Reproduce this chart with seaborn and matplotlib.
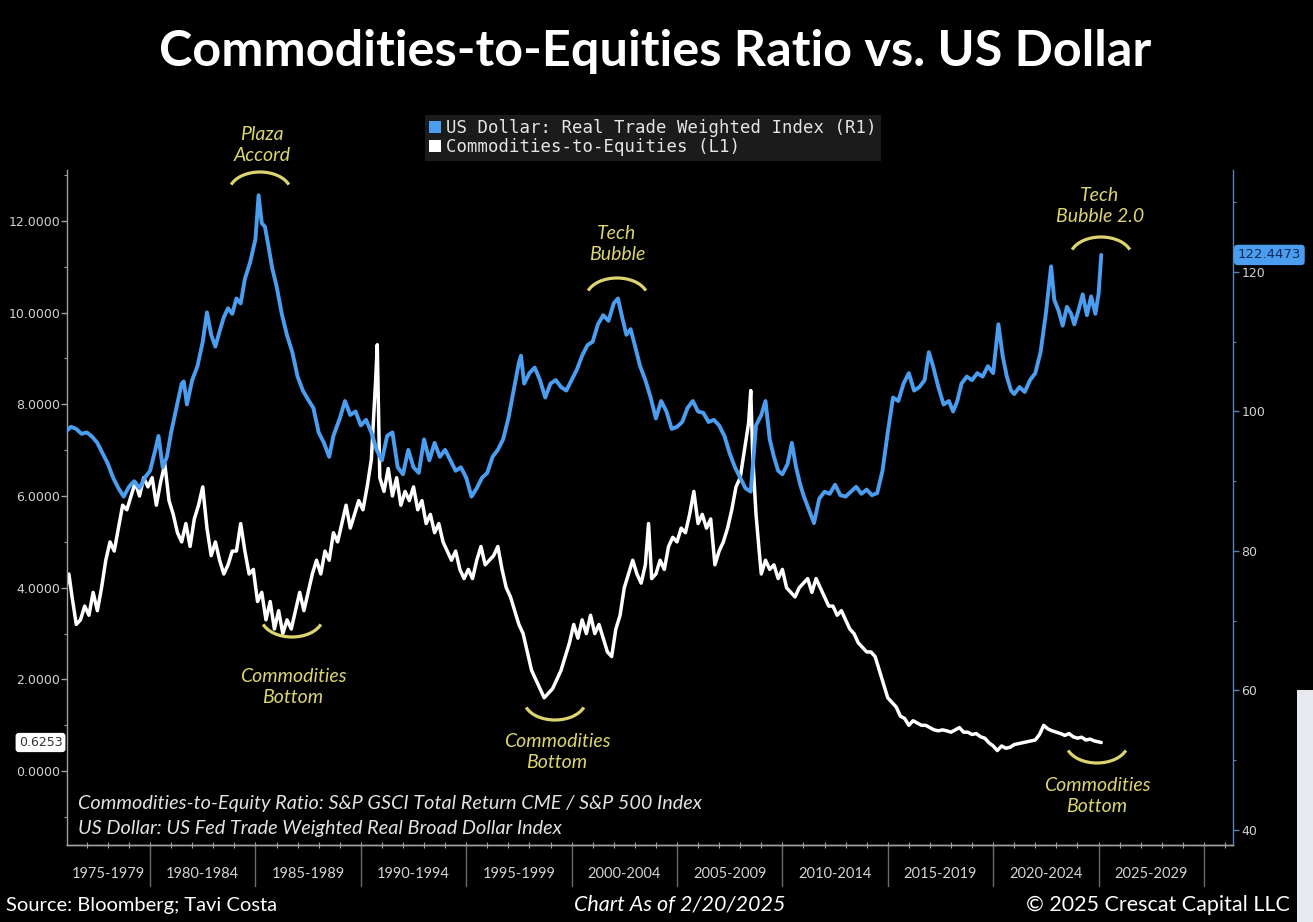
import numpy as np
import pandas as pd
import matplotlib
matplotlib.use("Agg")
import matplotlib.pyplot as plt
import matplotlib.transforms as mtransforms
from matplotlib.patches import Arc, Patch, Rectangle
from matplotlib.font_manager import FontProperties
import seaborn as sns

# ---------------- data ----------------
usd_years = [
    1976.0, 1976.25, 1976.5, 1976.75, 1977.0, 1977.25, 1977.5, 1977.75, 1978.0, 1978.25,
    1978.5, 1978.75, 1979.0, 1979.25, 1979.5, 1979.75, 1980.0, 1980.25, 1980.4, 1980.6,
    1980.8, 1981.0, 1981.25, 1981.5, 1981.6, 1981.75, 1982.0, 1982.25, 1982.5, 1982.7,
    1982.9, 1983.1, 1983.3, 1983.5, 1983.7, 1983.9, 1984.1, 1984.3, 1984.5, 1984.75,
    1985.0, 1985.15, 1985.3, 1985.45, 1985.6, 1985.8, 1986.0, 1986.25, 1986.5, 1986.75,
    1987.0, 1987.25, 1987.5, 1987.75, 1988.0, 1988.25, 1988.5, 1988.7, 1989.0, 1989.25,
    1989.5, 1989.75, 1990.0, 1990.25, 1990.5, 1990.75, 1991.0, 1991.25, 1991.5, 1991.75,
    1992.0, 1992.25, 1992.5, 1992.75, 1993.0, 1993.25, 1993.5, 1993.75, 1994.0, 1994.25,
    1994.5, 1994.75, 1995.0, 1995.25, 1995.5, 1995.75, 1996.0, 1996.25, 1996.5, 1996.75,
    1997.0, 1997.25, 1997.5, 1997.6, 1997.75, 1998.0, 1998.25, 1998.5, 1998.75, 1999.0,
    1999.25, 1999.5, 1999.75, 2000.0, 2000.25, 2000.5, 2000.75, 2001.0, 2001.25, 2001.5,
    2001.75, 2002.0, 2002.2, 2002.4, 2002.6, 2002.8, 2003.0, 2003.25, 2003.5, 2003.75,
    2004.0, 2004.25, 2004.5, 2004.75, 2005.0, 2005.25, 2005.5, 2005.75, 2006.0, 2006.25,
    2006.5, 2006.75, 2007.0, 2007.25, 2007.5, 2007.75, 2008.0, 2008.25, 2008.5, 2008.75,
    2009.0, 2009.2, 2009.4, 2009.6, 2009.8, 2010.0, 2010.25, 2010.45, 2010.65, 2010.85,
    2011.0, 2011.25, 2011.5, 2011.75, 2012.0, 2012.25, 2012.5, 2012.75, 2013.0, 2013.25,
    2013.5, 2013.75, 2014.0, 2014.25, 2014.5, 2014.75, 2015.0, 2015.25, 2015.5, 2015.75,
    2016.0, 2016.25, 2016.5, 2016.75, 2016.95, 2017.15, 2017.4, 2017.65, 2017.9, 2018.1,
    2018.3, 2018.5, 2018.75, 2019.0, 2019.25, 2019.5, 2019.75, 2020.0, 2020.25, 2020.45,
    2020.65, 2020.85, 2021.0, 2021.25, 2021.5, 2021.75, 2022.0, 2022.25, 2022.5, 2022.75,
    2022.9, 2023.1, 2023.3, 2023.5, 2023.7, 2023.85, 2024.05, 2024.25, 2024.45, 2024.65,
    2024.85, 2025.0, 2025.13,
]
usd_values = [
    97.1, 97.8, 97.5, 96.8, 97.0, 96.4, 95.5, 94.0, 92.5, 90.5,
    89.0, 87.8, 89.2, 90.0, 89.0, 90.5, 91.5, 94.5, 96.5, 92.0,
    93.5, 97.0, 100.5, 104.0, 104.3, 101.0, 104.5, 106.5, 110.0, 114.2,
    111.0, 109.3, 111.5, 113.5, 114.8, 114.0, 116.2, 115.5, 119.0, 121.4,
    124.7, 131.0, 127.0, 126.5, 124.0, 120.5, 118.0, 114.0, 110.9, 108.5,
    105.0, 103.0, 101.7, 100.5, 97.0, 95.5, 93.5, 96.5, 99.0, 101.5,
    99.5, 100.0, 98.0, 98.8, 97.0, 94.5, 93.0, 96.5, 97.0, 92.0,
    91.0, 94.5, 92.0, 91.2, 96.0, 93.0, 95.5, 93.5, 94.5, 93.0,
    91.5, 92.0, 90.5, 87.8, 89.0, 90.5, 91.2, 93.5, 94.5, 96.0,
    99.0, 103.0, 107.0, 108.0, 104.0, 105.5, 106.3, 104.5, 102.0, 104.0,
    104.5, 103.5, 103.0, 104.5, 106.0, 108.0, 109.5, 110.0, 112.5, 113.8,
    113.0, 115.5, 116.2, 113.5, 111.0, 111.8, 109.5, 106.5, 104.5, 102.0,
    99.0, 101.5, 100.0, 97.5, 97.8, 98.5, 100.5, 101.5, 100.0, 99.8,
    98.5, 98.8, 98.0, 96.5, 94.0, 92.0, 90.5, 89.0, 88.5, 98.0,
    99.5, 101.5, 96.0, 93.5, 91.5, 91.0, 92.5, 95.5, 92.0, 89.5,
    88.0, 86.0, 84.0, 87.5, 88.5, 88.2, 89.5, 88.0, 87.8, 88.5,
    89.2, 88.2, 88.8, 88.0, 88.3, 91.5, 97.0, 102.0, 101.5, 104.0,
    105.5, 103.0, 103.5, 104.5, 108.5, 106.5, 103.5, 101.0, 101.5, 100.0,
    101.5, 104.0, 105.0, 104.5, 105.5, 105.0, 106.5, 105.5, 112.5, 108.0,
    105.0, 103.0, 102.5, 103.5, 102.8, 104.5, 105.5, 108.5, 114.0, 120.8,
    116.0, 114.5, 112.3, 115.0, 114.0, 112.5, 114.5, 116.8, 113.8, 116.5,
    114.0, 116.8, 122.4473,
]

ce_years = [
    1976.0, 1976.15, 1976.3, 1976.5, 1976.7, 1976.9, 1977.1, 1977.3, 1977.5, 1977.7,
    1977.9, 1978.1, 1978.3, 1978.5, 1978.7, 1978.9, 1979.1, 1979.3, 1979.5, 1979.7,
    1979.9, 1980.1, 1980.3, 1980.5, 1980.7, 1980.9, 1981.1, 1981.3, 1981.5, 1981.7,
    1981.9, 1982.1, 1982.3, 1982.5, 1982.7, 1982.9, 1983.1, 1983.3, 1983.5, 1983.7,
    1983.9, 1984.1, 1984.3, 1984.5, 1984.7, 1984.9, 1985.1, 1985.3, 1985.5, 1985.7,
    1985.9, 1986.1, 1986.3, 1986.5, 1986.7, 1986.9, 1987.1, 1987.3, 1987.5, 1987.7,
    1987.9, 1988.1, 1988.3, 1988.5, 1988.7, 1988.9, 1989.1, 1989.3, 1989.5, 1989.7,
    1989.9, 1990.1, 1990.3, 1990.5, 1990.7, 1990.78, 1990.9, 1991.1, 1991.3, 1991.5,
    1991.7, 1991.9, 1992.1, 1992.3, 1992.5, 1992.7, 1992.9, 1993.1, 1993.3, 1993.5,
    1993.7, 1993.9, 1994.1, 1994.3, 1994.5, 1994.7, 1994.9, 1995.1, 1995.3, 1995.5,
    1995.7, 1995.9, 1996.1, 1996.3, 1996.5, 1996.7, 1996.9, 1997.1, 1997.3, 1997.5,
    1997.7, 1997.9, 1998.1, 1998.3, 1998.5, 1998.7, 1998.9, 1999.1, 1999.3, 1999.5,
    1999.7, 1999.9, 2000.1, 2000.3, 2000.5, 2000.7, 2000.9, 2001.1, 2001.3, 2001.5,
    2001.7, 2001.9, 2002.1, 2002.3, 2002.5, 2002.7, 2002.9, 2003.1, 2003.3, 2003.5,
    2003.65, 2003.8, 2004.0, 2004.2, 2004.4, 2004.6, 2004.8, 2005.0, 2005.2, 2005.4,
    2005.6, 2005.8, 2006.0, 2006.2, 2006.4, 2006.6, 2006.8, 2007.0, 2007.2, 2007.4,
    2007.6, 2007.8, 2008.0, 2008.2, 2008.4, 2008.5, 2008.6, 2008.75, 2008.9, 2009.0,
    2009.2, 2009.4, 2009.6, 2009.8, 2010.0, 2010.2, 2010.4, 2010.6, 2010.8, 2011.0,
    2011.2, 2011.4, 2011.6, 2011.8, 2012.0, 2012.2, 2012.4, 2012.6, 2012.8, 2013.0,
    2013.2, 2013.4, 2013.6, 2013.8, 2014.0, 2014.2, 2014.4, 2014.6, 2014.8, 2015.0,
    2015.2, 2015.4, 2015.6, 2015.8, 2016.0, 2016.2, 2016.4, 2016.6, 2016.8, 2017.0,
    2017.2, 2017.4, 2017.6, 2017.8, 2018.0, 2018.2, 2018.4, 2018.6, 2018.8, 2019.0,
    2019.2, 2019.4, 2019.6, 2019.8, 2020.0, 2020.2, 2020.4, 2020.6, 2020.8, 2021.0,
    2021.2, 2021.4, 2021.6, 2021.8, 2022.0, 2022.2, 2022.4, 2022.6, 2022.8, 2023.0,
    2023.2, 2023.4, 2023.6, 2023.8, 2024.0, 2024.2, 2024.4, 2024.6, 2024.8, 2025.0,
    2025.13,
]
ce_values = [
    4.0, 4.3, 3.8, 3.2, 3.3, 3.6, 3.4, 3.9, 3.5, 4.0,
    4.6, 5.0, 4.8, 5.3, 5.8, 5.7, 6.0, 6.3, 6.0, 6.4,
    6.2, 6.4, 5.8, 6.3, 6.7, 5.9, 5.6, 5.2, 5.0, 5.4,
    4.9, 5.5, 5.8, 6.2, 5.3, 4.7, 5.0, 4.6, 4.3, 4.5,
    4.8, 4.8, 5.4, 4.8, 4.3, 4.4, 3.7, 3.9, 3.3, 3.7,
    3.1, 3.5, 3.0, 3.3, 3.1, 3.5, 3.9, 3.5, 3.9, 4.3,
    4.6, 4.3, 4.8, 4.6, 5.2, 5.0, 5.4, 5.8, 5.3, 5.6,
    5.9, 5.7, 6.2, 6.8, 8.5, 9.3, 6.4, 6.1, 6.6, 6.0,
    6.4, 5.8, 6.1, 5.9, 6.2, 5.7, 5.9, 5.4, 5.6, 5.2,
    5.4, 5.0, 4.8, 4.6, 4.8, 4.4, 4.2, 4.4, 4.2, 4.6,
    4.9, 4.5, 4.6, 4.7, 4.9, 4.4, 4.0, 3.8, 3.5, 3.2,
    3.0, 2.6, 2.2, 2.0, 1.8, 1.6, 1.7, 1.8, 2.0, 2.2,
    2.5, 2.8, 3.2, 2.9, 3.3, 3.0, 3.4, 3.0, 3.2, 2.9,
    2.6, 2.5, 3.1, 3.4, 4.0, 4.3, 4.6, 4.3, 4.1, 4.5,
    5.4, 4.2, 4.3, 4.6, 4.4, 4.9, 5.1, 5.0, 5.3, 5.2,
    5.6, 6.1, 5.4, 5.6, 5.3, 5.5, 4.5, 4.8, 5.0, 5.3,
    5.7, 6.2, 6.4, 7.0, 7.6, 8.3, 6.8, 5.6, 4.8, 4.3,
    4.6, 4.4, 4.5, 4.2, 4.4, 4.0, 3.9, 3.8, 4.0, 4.1,
    4.2, 3.9, 4.2, 4.0, 3.8, 3.6, 3.6, 3.4, 3.5, 3.3,
    3.1, 3.0, 2.8, 2.7, 2.6, 2.6, 2.5, 2.2, 1.9, 1.6,
    1.5, 1.4, 1.2, 1.15, 1.0, 1.1, 1.05, 1.0, 1.0, 0.95,
    0.9, 0.88, 0.9, 0.88, 0.85, 0.9, 0.95, 0.85, 0.85, 0.8,
    0.82, 0.75, 0.72, 0.62, 0.55, 0.45, 0.55, 0.5, 0.52, 0.58,
    0.6, 0.62, 0.64, 0.66, 0.68, 0.8, 1.0, 0.92, 0.88, 0.85,
    0.82, 0.78, 0.82, 0.75, 0.72, 0.74, 0.68, 0.7, 0.66, 0.64,
    0.6253,
]

left_ticks = [0, 2, 4, 6, 8, 10, 12]
right_ticks = [40, 60, 80, 100, 120]
period_starts = [1975, 1980, 1985, 1990, 1995, 2000, 2005, 2010, 2015, 2020, 2025]
period_labels = ["1975-1979", "1980-1984", "1985-1989", "1990-1994", "1995-1999",
                 "2000-2004", "2005-2009", "2010-2014", "2015-2019", "2020-2024", "2025-2029"]

annotations = [
    ("Plaza\nAccord", 262, 145, "top", 260, 192),
    ("Tech\nBubble", 617, 244, "top", 617, 298),
    ("Tech\nBubble 2.0", 1100, 206, "top", 1101, 257),
    ("Commodities\nBottom", 293, 687, "bottom", 292, 617),
    ("Commodities\nBottom", 557, 752, "bottom", 555, 700),
    ("Commodities\nBottom", 1097, 796, "bottom", 1097, 743),
]

# ---------------- style ----------------
W, H = 1313, 922
BLUE = "#4b9df0"
YEL = "#dcd470"
GRAY = "#a0a0a0"
TXT = "#d2d2d2"

sns.set_theme(style="dark")
plt.rcParams["font.family"] = ["Lato", "DejaVu Sans"]
plt.rcParams["axes.unicode_minus"] = False

fig = plt.figure(figsize=(W / 100, H / 100), dpi=100, facecolor="black")


def fx(px):
    return px / W


def fy(py):
    return 1 - py / H


ax = fig.add_axes([fx(67), fy(845), fx(1233) - fx(67), fy(170) - fy(845)])
ax.set_facecolor("black")
ax2 = ax.twinx()

ce_df = pd.DataFrame({"year": ce_years, "value": ce_values})
usd_df = pd.DataFrame({"year": usd_years, "value": usd_values})

sns.lineplot(data=ce_df, x="year", y="value", ax=ax, color="white", linewidth=2.5)
sns.lineplot(data=usd_df, x="year", y="value", ax=ax2, color=BLUE, linewidth=2.8)

ax.set_xlim(1976.06, 2031.38)
ax.set_ylim(-1.61, 13.11)
ax2.set_ylim(37.85, 134.62)
for a in (ax, ax2):
    a.set_xlabel("")
    a.set_ylabel("")
    a.grid(False)

# spines
for a in (ax, ax2):
    a.spines["top"].set_visible(False)
    a.spines["left"].set_color(GRAY)
    a.spines["bottom"].set_color(GRAY)
    a.spines["right"].set_color("#5b7fb8")
    for s in a.spines.values():
        s.set_linewidth(1.0)
ax.spines["right"].set_visible(False)
ax2.spines["left"].set_visible(False)

# left y ticks
ax.set_yticks(left_ticks)
ax.set_yticklabels([f"{v:.4f}" for v in left_ticks], family="DejaVu Sans", fontsize=9)
ax.set_yticks(np.arange(-1, 14, 1), minor=True)
ax.tick_params(axis="y", which="major", colors=GRAY, labelcolor=TXT, length=4, width=1, direction="out", pad=1, left=True)
ax.tick_params(axis="y", which="minor", colors=GRAY, length=2, width=0.8, left=True)

# right y ticks
ax2.set_yticks(right_ticks)
ax2.set_yticklabels([str(v) for v in right_ticks], family="DejaVu Sans", fontsize=9)
ax2.set_yticks(np.arange(40, 135, 10), minor=True)
ax2.tick_params(axis="y", which="major", colors="#5b7fb8", labelcolor=TXT, length=4, width=1, direction="out", pad=2, right=True)
ax2.tick_params(axis="y", which="minor", colors="#5b7fb8", length=2, width=0.8, right=True)

# x axis: period labels
xmin, xmax = ax.get_xlim()
mids = []
for s in period_starts:
    lo, hi = max(s, xmin), min(s + 5, xmax)
    mids.append((lo + hi) / 2)
ax.set_xticks(mids)
ax.set_xticklabels(period_labels, fontsize=10.5, color=TXT)
ax.tick_params(axis="x", which="major", length=0, pad=16, bottom=True)
ax.set_xticks(np.arange(1977, 2032, 1), minor=True)
ax.tick_params(axis="x", which="minor", length=4, width=0.8, colors=GRAY, direction="inout", bottom=True)

trans = mtransforms.blended_transform_factory(ax.transData, ax.transAxes)
for s in period_starts[1:] + [2030]:
    ax.plot([s, s], [0, -0.06], transform=trans, color="#6a6a6a", lw=1.0, clip_on=False)

# value labels
tl = mtransforms.blended_transform_factory(ax.transAxes, ax.transData)
ax.text(-0.004, ce_values[-1], f"{ce_values[-1]:.4f}", transform=tl, ha="right", va="center",
        fontsize=9, family="DejaVu Sans", color="#333333",
        bbox=dict(boxstyle="round,pad=0.25", fc="white", ec="none"))
tr = mtransforms.blended_transform_factory(ax2.transAxes, ax2.transData)
ax2.text(1.004, usd_values[-1], f"{usd_values[-1]:.4f}", transform=tr, ha="left", va="center",
         fontsize=9.5, family="DejaVu Sans", color="#0d2a55",
         bbox=dict(boxstyle="round,pad=0.28", fc=BLUE, ec="none"))

# legend
handles = [Patch(facecolor=BLUE, edgecolor="none"), Patch(facecolor="white", edgecolor="none")]
labels = ["US Dollar: Real Trade Weighted Index (R1)", "Commodities-to-Equities (L1)"]
leg = fig.legend(handles, labels, loc="upper left", bbox_to_anchor=(fx(425), fy(115)),
                 frameon=True, facecolor="#1b1b1b", edgecolor="none", framealpha=1, fancybox=False,
                 prop=FontProperties(family="DejaVu Sans Mono", size=12.5), labelcolor="#e4e4e4",
                 handlelength=0.7, handleheight=0.7, handletextpad=0.25, borderpad=0.25,
                 labelspacing=0.05, borderaxespad=0)

# annotations
for text, tx, ty, kind, cx, cy in annotations:
    fig.text(fx(tx), fy(ty), text, ha="center", va="center", style="italic", color=YEL,
             fontsize=14, linespacing=1.35)
    if kind == "top":
        t1, t2 = 20, 160
    else:
        t1, t2 = 200, 340
    arc = Arc((fx(cx), fy(cy)), width=62 / W, height=40 / H, theta1=t1, theta2=t2,
              transform=fig.transFigure, color=YEL, lw=2.3)
    fig.add_artist(arc)

# footnote
fig.text(fx(78), fy(803), "Commodities-to-Equity Ratio: S&P GSCI Total Return CME / S&P 500 Index",
         ha="left", va="center", style="italic", color="#e2e2e2", fontsize=14.3)
fig.text(fx(78), fy(828), "US Dollar: US Fed Trade Weighted Real Broad Dollar Index",
         ha="left", va="center", style="italic", color="#e2e2e2", fontsize=14.3)

# title and footer
fig.text(fx(655), fy(52), "Commodities-to-Equities Ratio vs. US Dollar", ha="center", va="center",
         fontsize=36.3, weight="bold", color="white")
fig.text(fx(6), fy(905), "Source: Bloomberg; Tavi Costa", ha="left", va="center", fontsize=14.5, color="white")
fig.text(fx(680), fy(905), "Chart As of 2/20/2025", ha="center", va="center", fontsize=15.5,
         style="italic", color="white")
fig.text(fx(1290), fy(905), "© 2025 Crescat Capital LLC", ha="right", va="center", fontsize=15.5, color="white")

# screenshot edge
fig.add_artist(Rectangle((fx(1297), 0), fx(16), fy(690), transform=fig.transFigure,
                         facecolor="#e8e9ee", edgecolor="none"))

fig.savefig("out.png", dpi=100, facecolor="black")
